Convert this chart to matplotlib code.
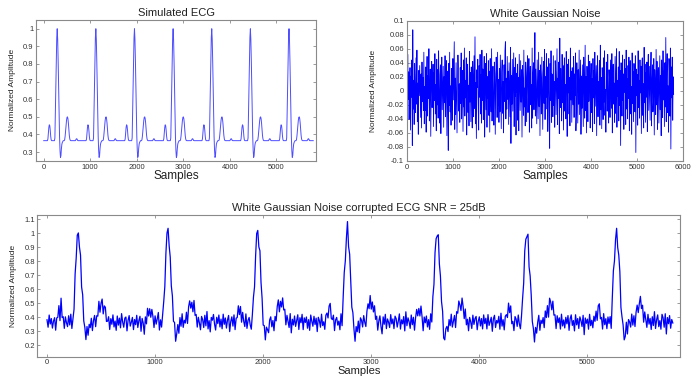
"""ECG + white Gaussian noise figure (three panels)."""

import matplotlib
matplotlib.use("Agg")
import matplotlib.pyplot as plt
import numpy as np


# ═══════════════════════════════════════════════════════════════════════════
# data (one value every 10 samples)
# ═══════════════════════════════════════════════════════════════════════════

STEP = 10                      # samples between stored values
N_POINTS = 580                 # 0 .. 5790 samples

# one heart beat of the clean ECG (830 samples, 83 values)
BEAT = [
    0.365, 0.365, 0.365, 0.365, 0.365, 0.365, 0.365, 0.365, 0.365, 0.375,
    0.410, 0.440, 0.455, 0.450, 0.425, 0.390, 0.370, 0.365, 0.365, 0.365,
    0.365, 0.365, 0.365, 0.365, 0.380, 0.520, 0.680, 0.830, 0.950, 1.000,
    0.940, 0.820, 0.670, 0.520, 0.390, 0.310, 0.270, 0.280, 0.320, 0.345,
    0.355, 0.360, 0.365, 0.365, 0.365, 0.370, 0.390, 0.420, 0.455, 0.480,
    0.497, 0.500, 0.490, 0.465, 0.430, 0.395, 0.375, 0.367, 0.365, 0.365,
    0.365, 0.365, 0.365, 0.365, 0.365, 0.365, 0.365, 0.365, 0.365, 0.370,
    0.375, 0.376, 0.372, 0.366, 0.365, 0.365, 0.365, 0.365, 0.365, 0.365,
    0.365, 0.365, 0.365,
]
BEAT_STARTS = [0, 830, 1660, 2490, 3320, 4150, 4980]   # samples

# white Gaussian noise, in units of 0.001
NOISE_MILLI = [
    18, -35, 52, -12, 27, -41, 8, 33, -56, 21, -9, 44, -78, 87, -26, 15, -48, 39, -3, -31,
    47, -19, 58, -44, 11, -62, 29, -7, 36, 2, -38, 24, -53, 41, -15, 19, -28, 55, -47, 6,
    -28, 34, -59, 13, 49, -36, 22, -11, 60, -43, 4, 31, -65, 17, 42, -24, -2, 38, -51, 26,
    -14, 53, -33, 9, -57, 45, -20, 30, -39, 57, -8, -46, 23, 37, -61, 14, 48, -27, 1, 35,
    -52, 20, -17, 50, -37, 12, 43, -64, 28, -5, -85, 39, -21, 55, -30, 7, -49, 32, 16, -42,
    46, -13, 25, 70, -55, 18, -34, 40, -6, -60, 27, 51, 35, -29, 10, -45, 33, -18, 54, -40,
    3, 29, -58, 44, -23, 61, -36, 15, -10, 47, -63, 21, 38, -31, 8, -50, 56, -16, 26, -44,
    34, -4, -53, 42, 19, -37, 50, -25, 77, -47, 12, -68, 30, 5, 45, -20, -56, 36, -9, 52,
    -33, 23, -46, 58, -14, 31, -41, 17, 49, -66, 6, 39, -27, 53, -52, 20, -11, 43, -35, 28,
    -59, 46, 2, -30, 60, -43, 14, 35, -18, -49, 41, 24, -62, 9, 48, 20, -38, 55, -21, 16,
    -45, 32, -30, 51, -7, -54, 27, 44, -32, 13, -60, 37, -15, 57, 70, -40, 18, -26, 49, -12,
    28, -48, 40, 3, -37, 62, -75, 22, -19, 45, -29, 11, 54, -51, 33, -8, 47, -63, 25, -2,
    38, -42, 19, -57, 52, 7, -28, 43, -16, 30, -66, 36, 12, -35, 58, -23, 4, -50, 41, 21,
    -44, 26, 50, -31, -6, 46, -59, 17, 35, -20, 9, -53, 61, -39, 23, 40, -27, 14, 83, -36,
    31, -12, -47, 44, 6, -40, 55, -22, 29, -64, 37, 15, -33, 48, -5, -55, 25, 42, -18, 59,
    -41, 20, -26, 53, -9, 34, -58, 10, 46, -30, -82, 39, -14, 57, -45, 24, 1, -37, 50, -21,
    13, -52, 43, 27, -34, 8, 60, -48, 18, -11, 41, -61, 75, -24, 32, 5, -43, 52, -17, 36,
    -56, 22, 47, -29, 9, -40, 56, 14, -65, 38, -3, 45, -33, 19, -50, 61, -13, 28, -45, 33,
    11, -20, 49, -38, 24, -7, 54, -57, -30, 40, 16, -46, 30, -19, 58, -34, 6, 44, -62, 21,
    -25, 37, -8, -51, 48, 12, -39, 65, -28, 20, -60, 35, 3, -44, 51, -15, 27, 42, -53, 8,
    39, -31, 17, -58, 46, -10, 29, -47, 55, -22, 4, 36, -64, 25, 50, -37, 13, -5, 43, -49,
    65, -27, 19, -54, 33, 10, -41, 47, -16, 57, -35, 2, -59, 41, 23, -29, 52, -12, -46, 30,
    14, -38, 44, 7, -25, 53, -60, 26, 38, -19, 11, -45, 49, -32, 21, 60, -52, 15, -8, 34,
    -43, 56, -21, 29, -78, 40, 9, -36, 51, -14, 24, -55, 45, -2, 32, -48, 58, -26, 17, -40,
    36, -11, 48, -57, 20, 43, -33, 6, -62, 54, -18, 27, -44, 39, 12, -30, 50, -88, 31, -7,
    23, -49, 57, -24, 15, -39, 44, -3, 35, -61, 28, 47, -35, 10, -53, 62, -17, 26, -45, 38,
    -9, 41, -58, 19, 52, -28, 4, 35, -42, 24, 55, -50, 13, 37, -30, -16, 46, -63, 30, 8,
    -34, 59, -20, 42, -55, 17, 33, -46, 1, 50, -27, 22, -64, 44, 11, -38, 57, -13, 28, -51,
    40, -23, 76, -44, 18, 53, -31, 7, -59, 46, 25, -36, 61, -83, 34, -10, 48, -42, 20, -5,
]

TITLES = ["Simulated ECG", "White Gaussian Noise",
          "White Gaussian Noise corrupted ECG SNR = 25dB"]
X_LABEL = "Samples"
Y_LABEL = "Normalized Amplitude"

# ═══════════════════════════════════════════════════════════════════════════
# build signals
# ═══════════════════════════════════════════════════════════════════════════

samples = np.arange(N_POINTS) * STEP
ecg = np.zeros(N_POINTS)
beat = np.array(BEAT)
for start in BEAT_STARTS:
    i0 = start // STEP
    n = min(len(beat), N_POINTS - i0)
    ecg[i0:i0 + n] = beat[:n]
noise = np.array(NOISE_MILLI) / 1000.0
noisy = ecg + noise

# ═══════════════════════════════════════════════════════════════════════════
# plot
# ═══════════════════════════════════════════════════════════════════════════

plt.rcParams["font.family"] = ["Liberation Sans", "DejaVu Sans"]

SPINE = "#8a8a8a"
TXT = "#222222"


def style(ax, title, ylab_x, xlab_y, xlab_size=8.5, tick_pad=2):
    ax.set_title(title, fontsize=8, color=TXT, pad=3)
    ax.set_xlabel(X_LABEL, fontsize=xlab_size, color=TXT)
    ax.xaxis.set_label_coords(0.5, xlab_y)
    ax.set_ylabel(Y_LABEL, fontsize=6, color=TXT)
    ax.yaxis.set_label_coords(ylab_x, 0.5)
    ax.tick_params(direction="in", top=True, right=True, length=2.5,
                   width=0.6, labelsize=5.5, colors="#333333", pad=tick_pad,
                   color=SPINE)
    for s in ax.spines.values():
        s.set_color(SPINE)
        s.set_linewidth(0.8)


fig = plt.figure(figsize=(6.93, 3.76), dpi=100)

ax1 = fig.add_axes([0.052, 0.572, 0.404, 0.375])
ax1.plot(samples, ecg, color="#4d4dff", lw=0.7)
ax1.set_xlim(-165, 5850)
ax1.set_ylim(0.25, 1.05)
ax1.set_xticks(np.arange(0, 5001, 1000))
ax1.set_yticks(np.arange(0.3, 1.01, 0.1))
ax1.set_yticklabels(["0.3", "0.4", "0.5", "0.6", "0.7", "0.8", "0.9", "1"])
style(ax1, TITLES[0], -0.07, -0.062)

ax2 = fig.add_axes([0.587, 0.572, 0.399, 0.373])
ax2.plot(samples, noise, color="#0000ff", lw=0.6)
ax2.set_xlim(0, 6000)
ax2.set_ylim(-0.1, 0.1)
ax2.set_xticks(np.arange(0, 6001, 1000))
yt = np.round(np.arange(-0.1, 0.1001, 0.02), 2)
ax2.set_yticks(yt)
ax2.set_yticklabels(["0" if v == 0 else f"{v:g}" for v in yt])
style(ax2, TITLES[1], -0.107, -0.062)

ax3 = fig.add_axes([0.0538, 0.0513, 0.928, 0.377])
ax3.plot(samples, noisy, color="#0000ff", lw=0.9)
ax3.set_xlim(-90, 5860)
ax3.set_ylim(0.12, 1.13)
ax3.set_xticks(np.arange(0, 5001, 1000))
ax3.set_yticks(np.arange(0.2, 1.11, 0.1))
ax3.set_yticklabels(["0.2", "0.3", "0.4", "0.5", "0.6", "0.7", "0.8", "0.9",
                     "1", "1.1"])
style(ax3, TITLES[2], -0.032, -0.064, xlab_size=8, tick_pad=1.5)

fig.savefig("out.png", dpi=100)
